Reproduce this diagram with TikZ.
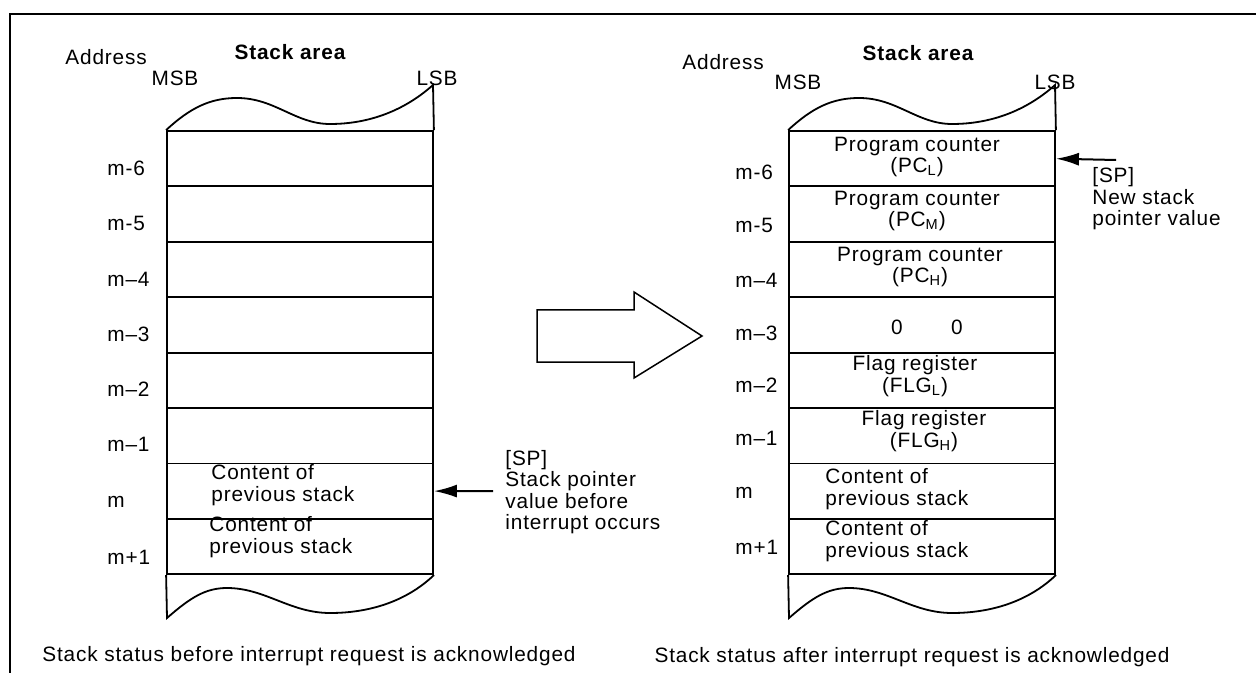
\documentclass[tikz,border=0pt]{standalone}
\usepackage{fontspec}
\setmainfont{Liberation Sans}[LetterSpace=4]
\usetikzlibrary{arrows.meta}

\tikzset{
  txt/.style={font=\fontsize{10.4pt}{10.7pt}\selectfont, inner sep=0pt},
  cell/.style={draw, line width=0.9pt, minimum width=133pt, minimum height=27.7pt, inner sep=0pt},
  outline/.style={line width=0.9pt},
  frame/.style={line width=1.35pt},
  sparrow/.style={-{Latex[length=11.5pt,width=6.5pt]}, line width=1pt},
}

\begin{document}
\begin{tikzpicture}[x=0.5pt,y=-0.5pt]
  \useasboundingbox (0,0) rectangle (1256,673);
  \draw[frame] (1256,14) -- (10,14) -- (10,673);

  % the two stacks
  \foreach \s/\dx in {L/0,R/622} {
    \foreach \i in {1,...,8} {
      \node[cell] (\s\i) at ({300+\dx},{131+55.4*(\i-0.5)}) {};
    }
    \draw[outline] (\s1.north west) .. controls ({190+\dx},108) and ({210+\dx},98) .. ({237+\dx},98)
      .. controls ({275+\dx},98) and ({295+\dx},124) .. ({330+\dx},124)
      .. controls ({370+\dx},124) and ({405+\dx},110) .. ({433+\dx},85) -- (\s1.north east);
    \draw[outline] (\s8.south east) .. controls ({410+\dx},598) and ({375+\dx},613) .. ({330+\dx},613)
      .. controls ({290+\dx},613) and ({265+\dx},588) .. ({227+\dx},588)
      .. controls ({205+\dx},588) and ({190+\dx},598) .. ({167+\dx},618) -- (\s8.south west);
  }

  % headings
  \node[txt, anchor=west] (addrL) at (65,57) {Address};
  \node[txt, font=\fontsize{10.4pt}{10.7pt}\selectfont\bfseries] (areaL) at (290,52) {Stack area};
  \node[txt] (msbL) at (175,78) {MSB};
  \node[txt] (lsbL) at (437,78) {LSB};
  \node[txt, anchor=west] (addrR) at (682,62) {Address};
  \node[txt, font=\fontsize{10.4pt}{10.7pt}\selectfont\bfseries] (areaR) at (918,53) {Stack area};
  \node[txt] (msbR) at (798,82) {MSB};
  \node[txt] (lsbR) at (1055,82) {LSB};

  % addresses
  \foreach \i/\lab/\yl/\yr in {1/m-6/168/172, 2/m-5/223/225, 3/m–4/279/280, 4/m–3/334/333,
                               5/m–2/389/385, 6/m–1/444/438, 7/m/502/493, 8/m+1/557/547} {
    \node[txt, anchor=west] (adL\i) at (107,\yl) {\lab};
    \node[txt, anchor=west] (adR\i) at (735,\yr) {\lab};
  }

  % contents before
  \node[txt, anchor=west, align=left] (oldL7) at (211,485) {Content of\\previous stack};
  \node[txt, anchor=west, align=left] (oldL8) at (209,537) {Content of\\previous stack};

  % contents after
  \node[txt, align=center] (pcl) at (917,157) {Program counter\\(PC\textsubscript{L})};
  \node[txt, align=center] (pcm) at (917,211) {Program counter\\(PC\textsubscript{M})};
  \node[txt, align=center] (pch) at (920,267) {Program counter\\(PC\textsubscript{H})};
  \node[txt] (zeroa) at (897,327) {0};
  \node[txt] (zerob) at (957,327) {0};
  \node[txt, align=center] (flgl) at (915,376) {Flag register\\(FLG\textsubscript{L})};
  \node[txt, align=center] (flgh) at (924,431) {Flag register\\(FLG\textsubscript{H})};
  \node[txt, anchor=west, align=left] (oldR7) at (825,489) {Content of\\previous stack};
  \node[txt, anchor=west, align=left] (oldR8) at (825,541) {Content of\\previous stack};

  % stack pointers
  \coordinate (spL) at (493,491);
  \draw[sparrow] (spL) -- (L7.east);
  \node[txt, anchor=west, align=left] (spTextL) at (505,492) {[SP]\\Stack pointer\\value before\\interrupt occurs};
  \coordinate (spR) at (1116,160);
  \draw[sparrow] (spR) -- (R1.east);
  \node[txt, anchor=west, align=left] (spTextR) at (1092,199) {[SP]\\New stack\\pointer value};

  % transition
  \draw[line width=0.75pt] (537,310) -- (634,310) -- (634,292) -- (702,336) -- (634,378) -- (634,362) -- (537,362) -- cycle;

  % captions
  \node[txt, anchor=west] (capL) at (42,656) {Stack status before interrupt request is acknowledged};
  \node[txt] (capR) at (912,657) {Stack status after interrupt request is acknowledged};
\end{tikzpicture}
\end{document}
